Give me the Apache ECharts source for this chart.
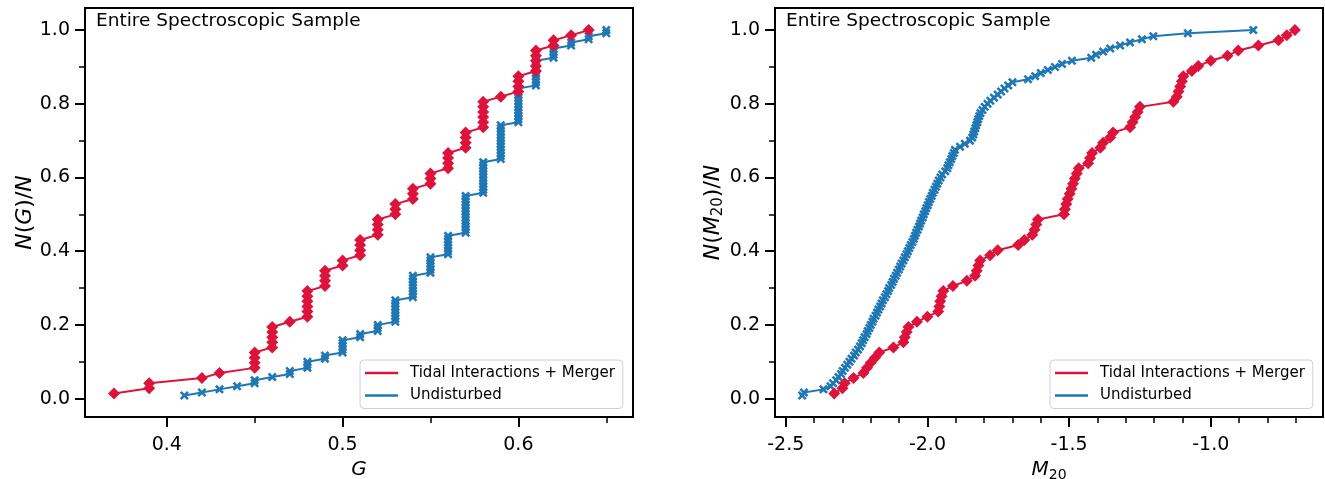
<!DOCTYPE html>
<html><head><meta charset="utf-8">
<script src="https://cdn.jsdelivr.net/npm/echarts@6/dist/echarts.min.js"></script>
<style>html,body{margin:0;padding:0;background:#fff}#c{width:1325px;height:479px}</style>
</head><body><div id="c"></div>
<script>
// ---- Data ----
// Left panel: Gini coefficient G, distinct values and number of galaxies at each value
const gTidalValues = [0.37,0.39,0.42,0.43,0.45,0.46,0.47,0.48,0.49,0.50,0.51,0.52,0.53,0.54,0.55,0.56,0.57,0.58,0.59,0.60,0.61,0.62,0.63,0.64];
const gTidalCounts = [1,2,1,1,4,5,1,6,4,2,4,4,3,3,3,4,4,6,1,4,5,2,1,1];
const gUndistValues = [0.41,0.42,0.43,0.44,0.45,0.46,0.47,0.48,0.49,0.50,0.51,0.52,0.53,0.54,0.55,0.56,0.57,0.58,0.59,0.60,0.61,0.62,0.63,0.64,0.65];
const gUndistCounts = [1,1,1,1,2,1,2,3,2,5,2,3,8,8,6,7,13,11,12,12,9,4,2,2,2];

// Right panel: sorted M20 values
const m20Tidal = [-2.329,-2.300,-2.292,-2.261,-2.226,-2.213,-2.200,-2.185,-2.170,-2.120,
  -2.085,-2.080,-2.073,-2.067,-2.037,-2.000,-1.962,-1.958,-1.955,-1.950,
  -1.944,-1.910,-1.861,-1.832,-1.826,-1.820,-1.814,-1.779,-1.752,-1.680,
  -1.658,-1.630,-1.622,-1.616,-1.610,-1.518,-1.515,-1.510,-1.505,-1.498,
  -1.492,-1.486,-1.480,-1.473,-1.466,-1.433,-1.426,-1.419,-1.390,-1.380,
  -1.355,-1.345,-1.285,-1.276,-1.267,-1.258,-1.250,-1.132,-1.120,-1.114,
  -1.108,-1.102,-1.097,-1.067,-1.044,-1.000,-0.941,-0.903,-0.832,-0.761,
  -0.732,-0.703];
const m20Undist = [-2.442,-2.436,-2.367,-2.342,-2.333,-2.322,-2.314,-2.305,-2.299,-2.291,
  -2.283,-2.275,-2.268,-2.259,-2.253,-2.245,-2.238,-2.232,-2.227,-2.222,
  -2.215,-2.211,-2.205,-2.200,-2.194,-2.190,-2.183,-2.178,-2.173,-2.167,
  -2.162,-2.157,-2.150,-2.145,-2.139,-2.135,-2.128,-2.123,-2.118,-2.112,
  -2.107,-2.101,-2.096,-2.091,-2.085,-2.080,-2.074,-2.069,-2.064,-2.059,
  -2.053,-2.048,-2.044,-2.040,-2.035,-2.030,-2.026,-2.022,-2.017,-2.013,
  -2.008,-2.004,-1.999,-1.995,-1.990,-1.985,-1.981,-1.975,-1.970,-1.965,
  -1.960,-1.954,-1.948,-1.937,-1.930,-1.926,-1.921,-1.916,-1.912,-1.907,
  -1.903,-1.885,-1.868,-1.850,-1.842,-1.838,-1.835,-1.831,-1.828,-1.824,
  -1.821,-1.817,-1.813,-1.806,-1.798,-1.788,-1.778,-1.765,-1.752,-1.740,
  -1.728,-1.715,-1.700,-1.645,-1.620,-1.600,-1.575,-1.550,-1.525,-1.490,
  -1.422,-1.405,-1.380,-1.355,-1.320,-1.285,-1.243,-1.203,-1.081,-0.850];

const seriesNames = ['Tidal Interactions + Merger', 'Undisturbed'];
const panelNote = 'Entire Spectroscopic Sample';
const gMajorTicks = [0.4, 0.5, 0.6];
const gMinorTicks = [0.45, 0.55, 0.65];
const mMajorTicks = [-2.5, -2.0, -1.5, -1.0];
const mMinorTicks = [-2.4,-2.3,-2.2,-2.1,-1.9,-1.8,-1.7,-1.6,-1.4,-1.3,-1.2,-1.1,-0.9,-0.8,-0.7];
const yMajorTicks = [0.0, 0.2, 0.4, 0.6, 0.8, 1.0];
const yMinorTicks = [0.1, 0.3, 0.5, 0.7, 0.9];

// ---- build cumulative fractions ----
function cumFromCounts(vals, counts) {
  const total = counts.reduce((a, b) => a + b, 0);
  const pts = []; let c = 0;
  vals.forEach((v, i) => { for (let k = 0; k < counts[i]; k++) { c++; pts.push([v, c / total]); } });
  return pts;
}
function cumFromSorted(vals) { return vals.map((v, i) => [v, (i + 1) / vals.length]); }

const RED = '#dc143c', BLUE = '#1f77b4';
const XSYM = 'path://M0,2L2,0L5,3L8,0L10,2L7,5L10,8L8,10L5,7L2,10L0,8L3,5Z';
const FONT = 'DejaVu Sans';

const GRID_TOP = 8, GRID_H = 409, GRID_W = 548;
const LEFTS = [85, 775];

function richStyles(sz) {
  return {
    i: { fontStyle: 'italic', fontSize: sz, lineHeight: sz + 4, fontFamily: FONT, color: '#000' },
    r: { fontSize: sz, lineHeight: sz + 4, fontFamily: FONT, color: '#000' },
    s: { fontSize: Math.round(sz * 0.7), lineHeight: Math.round(sz * 0.7), verticalAlign: 'bottom', fontFamily: FONT, color: '#000' }
  };
}
function majorX(grid, min, max, ticks, name) {
  return { gridIndex: grid, type: 'value', min: min, max: max, position: 'bottom',
    axisLine: { show: false, onZero: false }, splitLine: { show: false },
    axisTick: { show: true, inside: false, length: 10, lineStyle: { color: '#000', width: 2 }, customValues: ticks },
    axisLabel: { show: true, customValues: ticks, formatter: v => v.toFixed(1), fontSize: 19, color: '#000', margin: 19, fontFamily: FONT },
    name: name, nameLocation: 'middle', nameGap: 34,
    nameTextStyle: { color: '#000', fontFamily: FONT, rich: richStyles(20) } };
}
function minorX(grid, min, max, ticks) {
  return { gridIndex: grid, type: 'value', min: min, max: max, position: 'bottom',
    axisLine: { show: false, onZero: false }, splitLine: { show: false }, axisLabel: { show: false },
    axisTick: { show: true, inside: false, length: 6, lineStyle: { color: '#000', width: 1.5 }, customValues: ticks } };
}
function majorY(grid, name, gap) {
  return { gridIndex: grid, type: 'value', min: -0.05, max: 1.06, position: 'left',
    axisLine: { show: false, onZero: false }, splitLine: { show: false },
    axisTick: { show: true, inside: false, length: 10, lineStyle: { color: '#000', width: 2 }, customValues: yMajorTicks },
    axisLabel: { show: true, customValues: yMajorTicks, formatter: v => v.toFixed(1), fontSize: 19, color: '#000', margin: 15, fontFamily: FONT },
    name: name, nameLocation: 'middle', nameGap: gap, nameRotate: 90,
    nameTextStyle: { color: '#000', fontFamily: FONT, rich: richStyles(22) } };
}
function minorY(grid) {
  return { gridIndex: grid, type: 'value', min: -0.05, max: 1.06, position: 'left',
    axisLine: { show: false, onZero: false }, splitLine: { show: false }, axisLabel: { show: false },
    axisTick: { show: true, inside: false, length: 6, lineStyle: { color: '#000', width: 1.5 }, customValues: yMinorTicks } };
}
function legendAt(left) {
  return { left: left, top: 360, orient: 'vertical', data: seriesNames.slice(), icon: 'rect',
    itemWidth: 33, itemHeight: 2.5, itemGap: 4.5, padding: [4, 8, 4, 5],
    backgroundColor: '#fff', borderColor: '#d0d0d0', borderWidth: 1, borderRadius: 4,
    selectedMode: false,
    textStyle: { fontSize: 15, color: '#000', fontFamily: FONT, lineHeight: 18, padding: [0, 0, 0, 7] } };
}
function lineSeries(name, data, xi, isTidal) {
  const c = isTidal ? RED : BLUE;
  return { name: name, type: 'line', xAxisIndex: xi, yAxisIndex: xi, data: data,
    symbol: isTidal ? 'diamond' : XSYM, symbolSize: isTidal ? 12 : 9, showAllSymbol: true,
    itemStyle: { color: c }, lineStyle: { color: c, width: 2 }, z: isTidal ? 3 : 2,
    emphasis: { disabled: true }, animation: false };
}

const chart = echarts.init(document.getElementById('c'), null, { renderer: 'canvas' });
chart.setOption({
  animation: false,
  backgroundColor: '#fff',
  textStyle: { fontFamily: FONT },
  grid: LEFTS.map(l => ({ left: l, top: GRID_TOP, width: GRID_W, height: GRID_H, show: true,
    borderColor: '#000', borderWidth: 2, backgroundColor: 'transparent', containLabel: false,
    outerBoundsMode: 'none' })),
  xAxis: [
    majorX(0, 0.3535, 0.6652, gMajorTicks, '{i|G}'),
    minorX(0, 0.3535, 0.6652, gMinorTicks),
    majorX(1, -2.538, -0.604, mMajorTicks, '{i|M}{s|20}'),
    minorX(1, -2.538, -0.604, mMinorTicks)
  ],
  yAxis: [
    majorY(0, '{i|N}{r|(}{i|G}{r|)/}{i|N}', 45),
    minorY(0),
    majorY(1, '{i|N}{r|(}{i|M}{s|20}{r|)/}{i|N}', 49),
    minorY(1)
  ],
  legend: [legendAt(360), legendAt(1050)],
  graphic: [
    { type: 'text', left: 96, top: 12, style: { text: panelNote, fontSize: 18.5, fill: '#000', fontFamily: FONT } },
    { type: 'text', left: 786, top: 12, style: { text: panelNote, fontSize: 18.5, fill: '#000', fontFamily: FONT } }
  ],
  series: [
    lineSeries(seriesNames[1], cumFromCounts(gUndistValues, gUndistCounts), 0, false),
    lineSeries(seriesNames[0], cumFromCounts(gTidalValues, gTidalCounts), 0, true),
    lineSeries(seriesNames[1], cumFromSorted(m20Undist), 2, false),
    lineSeries(seriesNames[0], cumFromSorted(m20Tidal), 2, true)
  ]
});
</script></body></html>
